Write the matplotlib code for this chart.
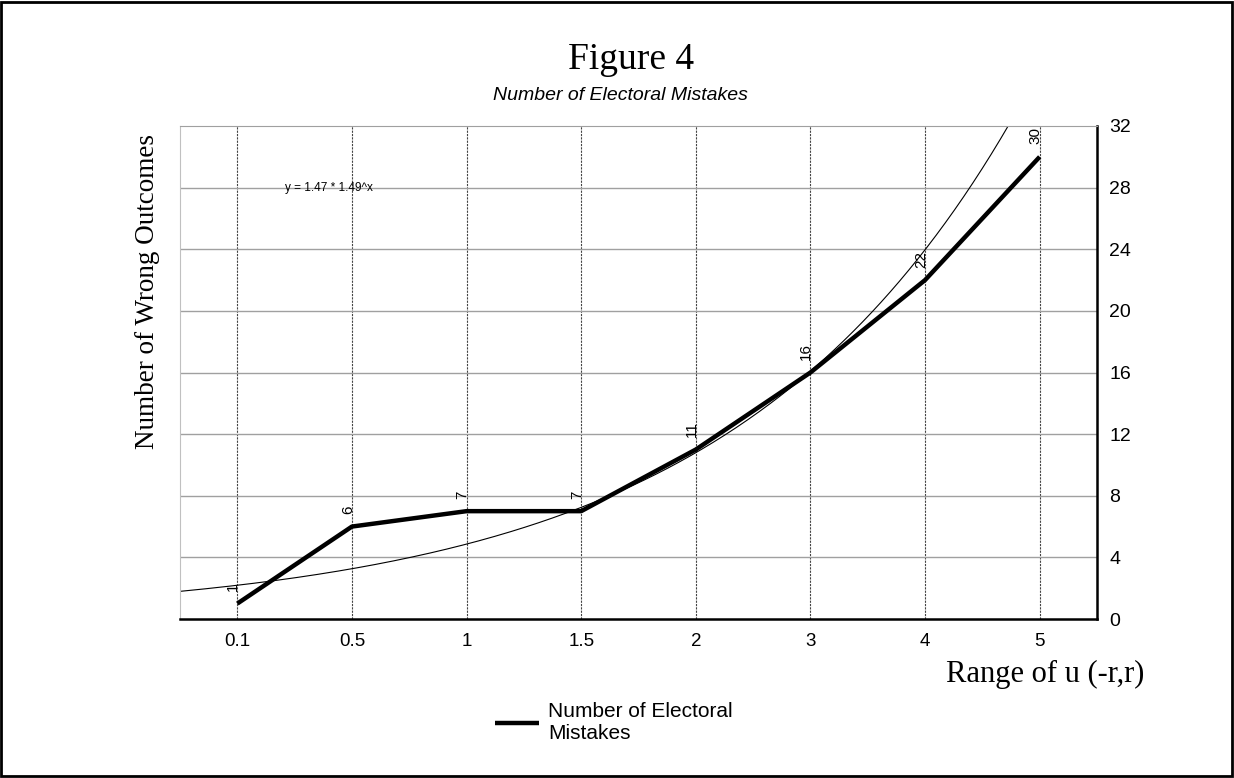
import numpy as np
import matplotlib
matplotlib.use("Agg")
import matplotlib.pyplot as plt
from matplotlib.patches import Rectangle

categories = ["0.1", "0.5", "1", "1.5", "2", "3", "4", "5"]
mistakes = [1, 6, 7, 7, 11, 16, 22, 30]
fit_a, fit_b = 1.47, 1.49
y_ticks = [0, 4, 8, 12, 16, 20, 24, 28, 32]

fig = plt.figure(figsize=(12.34, 7.78), dpi=100)
fig.patches.append(Rectangle((0.001, 0.002), 0.997, 0.996, transform=fig.transFigure,
                             fill=False, edgecolor="black", linewidth=2))
ax = fig.add_axes([180/1234, (778-619)/778, (1097-180)/1234, (619-126)/778])

x = np.arange(1, len(categories) + 1)
ax.set_xlim(0.5, 8.5)
ax.set_ylim(0, 32)

# grid
for xi in x:
    ax.axvline(xi, color="#444444", lw=0.8, ls=(0, (2, 1)), zorder=1)
for yt in y_ticks[1:-1]:
    ax.axhline(yt, color="#a0a0a0", lw=1.0, zorder=1)

# fit curve
xf = np.linspace(0.5, 8.5, 400)
ax.plot(xf, fit_a * fit_b ** xf, color="black", lw=0.8, zorder=2)

# data line
ax.plot(x, mistakes, color="black", lw=3.2, solid_capstyle="butt", zorder=3,
        label="Number of Electoral\nMistakes")

for xi, v in zip(x, mistakes):
    ax.annotate(str(v), (xi, v), xytext=(-3, 9), textcoords="offset points",
                rotation=90, ha="center", va="bottom", fontsize=11,
                family="Liberation Sans")

ax.text(1.42, 28, "y = 1.47 * 1.49^x", fontsize=8.5, family="Liberation Sans",
        va="center", ha="left")

ax.set_xticks(x)
ax.set_xticklabels(categories, family="Liberation Sans", fontsize=13.5)
ax.yaxis.tick_right()
ax.set_yticks(y_ticks)
ax.set_yticklabels([str(t) for t in y_ticks], family="Liberation Sans", fontsize=14)
ax.tick_params(axis="both", length=0)
ax.tick_params(axis="x", pad=10)
ax.tick_params(axis="y", pad=9)

ax.spines["left"].set_color("#c0c0c0")
ax.spines["left"].set_linewidth(0.8)
ax.spines["top"].set_color("#a0a0a0")
ax.spines["top"].set_linewidth(0.8)
ax.spines["right"].set_linewidth(1.8)
ax.spines["bottom"].set_linewidth(1.8)

fig.text(631/1234, 1 - 69/778, "Figure 4", family="Liberation Serif", fontsize=27,
         ha="center", va="baseline")
fig.text(620/1234, 1 - 96/778, "Number of Electoral Mistakes", family="Liberation Sans",
         style="italic", fontsize=14, ha="center", va="center")
fig.text(148/1234, 1 - 292/778, "Number of Wrong Outcomes", family="Liberation Serif",
         fontsize=19.5, rotation=90, ha="center", va="center")
fig.text(1144/1234, 1 - 682/778, "Range of u (-r,r)", family="Liberation Serif",
         fontsize=22, ha="right", va="baseline")

leg = fig.legend(loc="upper left", bbox_to_anchor=(495/1234, 1 - 702/778),
                 frameon=False, prop={"family": "Liberation Sans", "size": 15},
                 handlelength=2.1, handletextpad=0.45, borderaxespad=0, borderpad=0)

fig.savefig("out.png", dpi=100)
